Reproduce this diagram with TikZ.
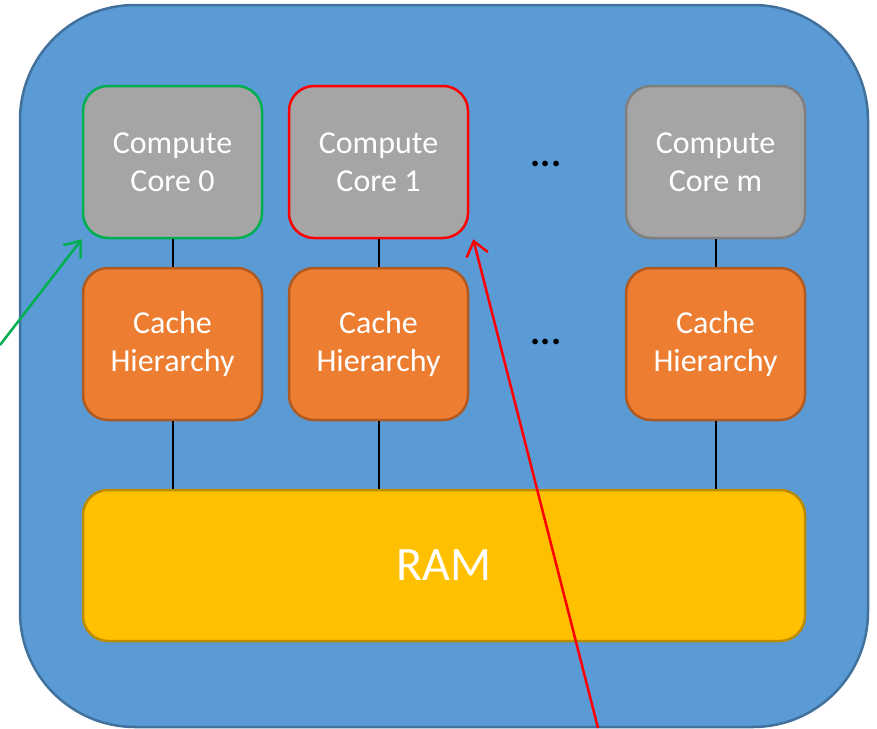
\documentclass[tikz,border=0pt]{standalone}
\usepackage{fontspec}
\setmainfont{Carlito}
\usetikzlibrary{arrows.meta}
\definecolor{boardblue}{HTML}{5B9BD5}
\definecolor{boardedge}{HTML}{41719C}
\definecolor{coregray}{HTML}{A5A5A5}
\definecolor{coreedge}{HTML}{7F7F7F}
\definecolor{cacheorange}{HTML}{ED7D31}
\definecolor{cacheedge}{HTML}{AE5A21}
\definecolor{ramyellow}{HTML}{FFC000}
\definecolor{ramedge}{HTML}{BC8C00}
\definecolor{markgreen}{HTML}{00B050}
\tikzstyle{my box} = [rounded corners=25pt, line width=2.5pt, text=white, align=center, inner sep=0pt,
  font=\fontsize{32}{38}\selectfont]
\tikzstyle{my core} = [my box, draw=coreedge, fill=coregray, minimum width=179pt, minimum height=152pt]
\tikzstyle{my cache} = [my box, draw=cacheedge, fill=cacheorange, minimum width=179pt, minimum height=152pt]
\tikzstyle{my link} = [line width=2pt, black]
\tikzstyle{my dots} = [font=\bfseries\fontsize{38}{40}\selectfont, inner sep=0pt]
\tikzstyle{my pointer} = [line width=2.5pt, -{Straight Barb[length=14pt,width=22pt,line width=2.5pt]}]

\begin{document}
\begin{tikzpicture}[x=1pt,y=-1pt]
  \useasboundingbox (0,0) rectangle (877,728);
  % Board
  \draw[line width=2.5pt, draw=boardedge, fill=boardblue, rounded corners=115pt] (20,5) rectangle (868,727);
  % Cores
  \node[my core, draw=markgreen] (core0) at (172.5,162) {Compute\\Core 0};
  \node[my core, draw=red] (core1) at (378.5,162) {Compute\\Core 1};
  \node[my core] (corem) at (715.5,162) {Compute\\Core m};
  % Caches
  \node[my cache] (cache0) at (172.5,344) {Cache\\Hierarchy};
  \node[my cache] (cache1) at (378.5,344) {Cache\\Hierarchy};
  \node[my cache] (cachem) at (715.5,344) {Cache\\Hierarchy};
  % RAM
  \node[my box, draw=ramedge, fill=ramyellow, minimum width=722pt, minimum height=151pt,
    font=\fontsize{48}{56}\selectfont] (ram) at (444,565.5) {RAM};
  \node[my dots] (dots1) at (546,164) {...};
  \node[my dots] (dots2) at (546,342) {...};
  % Links
  \foreach \id in {0,1,m}{
    \draw[my link] (core\id.south) -- (cache\id.north);
    \draw[my link] (cache\id.south) -- (cache\id.south |- ram.north);
  }
  % Pointers
  \coordinate (gstart) at (0,345);
  \coordinate (rstart) at (598,728);
  \draw[my pointer, markgreen] (gstart) -- (core0.south west);
  \draw[my pointer, red] (rstart) -- ([xshift=4pt]core1.south east);
\end{tikzpicture}
\end{document}
